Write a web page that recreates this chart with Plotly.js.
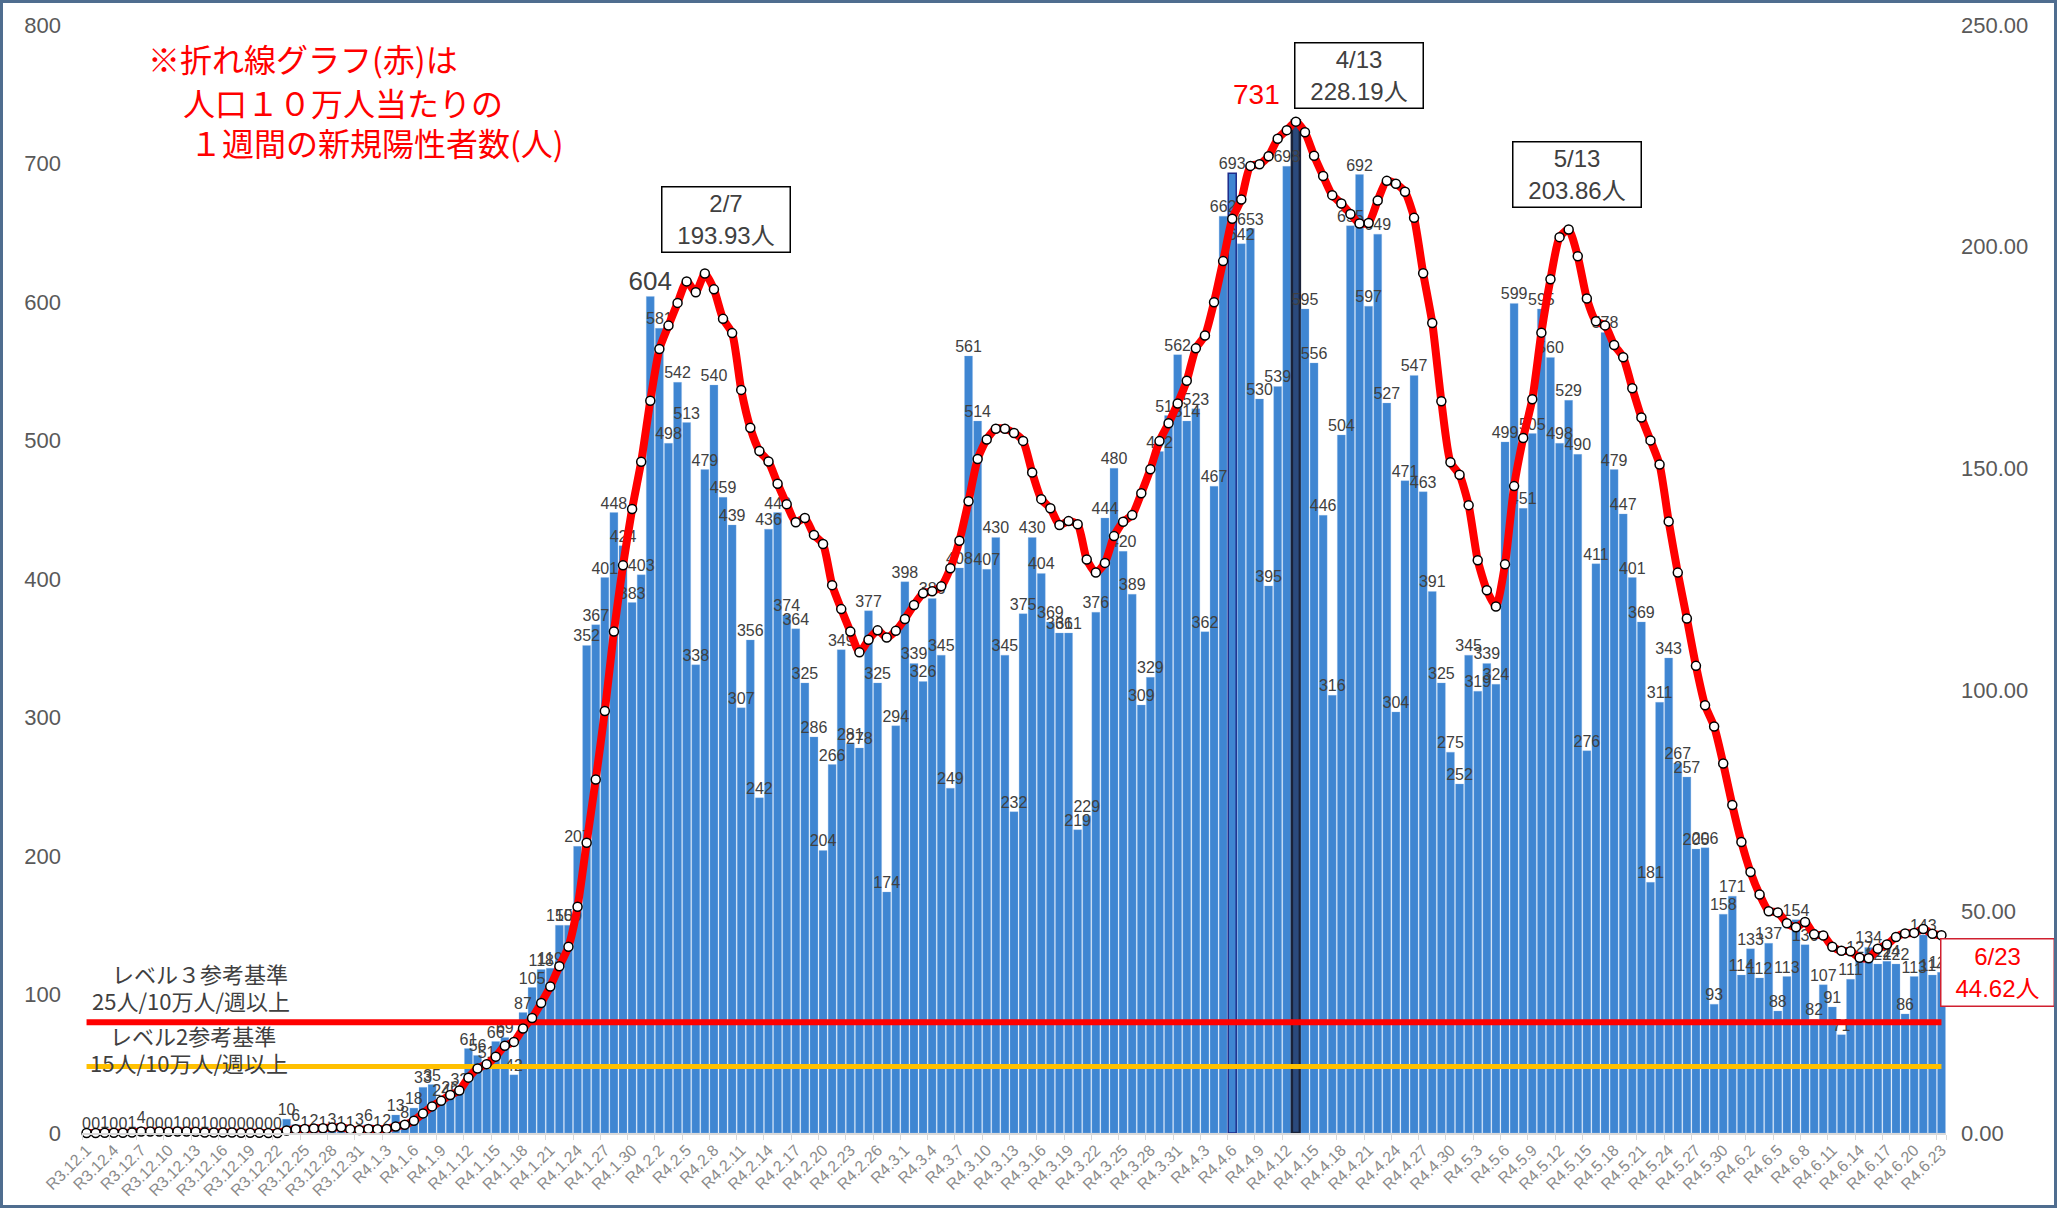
<!DOCTYPE html>
<html><head><meta charset="utf-8">
<script src="https://cdn.plot.ly/plotly-3.0.1.min.js"></script>
<style>
html,body{margin:0;padding:0;background:#fff;}
#chart{width:2057px;height:1208px;position:absolute;left:0;top:0;}
#frame{position:absolute;left:0;top:0;width:2057px;height:1208px;box-sizing:border-box;border:3px solid #4f6d8f;pointer-events:none;}
</style></head><body>
<div id="chart"></div><div id="frame"></div>
<script>
// ---- data ----
const firstDay = {year: 2021, month: 12, day: 1};
const dayCount = 205;

// daily new positive cases (bars, left axis)
const cases = [
  0,0,1,0,0,1,4,0,0,0,
  1,0,0,1,0,0,0,0,0,0,
  0,0,10,6,1,2,1,3,1,1,
  3,6,1,2,13,8,18,33,35,24,
  26,32,61,56,51,66,69,42,87,105,
  118,119,150,150,207,352,367,401,448,424,
  383,403,604,581,498,542,513,338,479,540,
  459,439,307,356,242,436,448,374,364,325,
  286,204,266,349,281,278,377,325,174,294,
  398,339,326,386,345,249,408,561,514,407,
  430,345,232,375,430,404,369,361,361,219,
  229,376,444,480,420,389,309,329,492,518,
  562,514,523,362,467,662,693,642,653,530,
  395,539,698,731,595,556,446,316,504,655,
  692,597,649,527,304,471,547,463,391,325,
  275,252,345,319,339,324,499,599,451,505,
  595,560,498,529,490,276,411,578,479,447,
  401,369,181,311,343,267,257,205,206,93,
  158,171,114,133,112,137,88,113,154,136,
  82,107,91,71,111,127,134,122,124,122,
  86,113,143,114,116
];

// weekly new positives per 100,000 people (red line, right axis)
const per100k = [
  0,0,0.05,0.05,0.05,0.11,0.33,0.33,0.33,0.27,
  0.33,0.33,0.27,0.11,0.11,0.11,0.11,0.05,0.05,0.05,
  0,0,0.55,0.87,0.93,1.04,1.09,1.25,1.31,0.82,
  0.65,0.93,0.87,0.93,1.47,1.85,2.78,4.42,6.00,7.25,
  8.56,9.60,12.49,14.56,15.54,17.23,19.68,20.56,23.56,25.95,
  29.33,33.04,37.62,42.04,51.04,65.49,79.77,95.20,113.14,128.08,
  140.79,151.47,165.21,176.88,182.17,187.30,192.15,189.69,193.93,190.35,
  183.70,180.48,167.67,159.11,153.87,151.53,146.51,141.88,137.79,138.77,
  134.95,132.88,123.61,118.21,113.14,108.45,111.29,113.41,111.78,113.30,
  115.98,119.14,121.76,122.25,123.34,127.43,133.64,142.53,152.07,156.49,
  158.89,158.89,157.96,156.16,149.02,143.02,140.95,137.19,138.06,137.35,
  129.39,126.44,128.63,134.68,137.90,139.42,144.33,149.78,156.11,160.14,
  164.61,169.74,177.04,179.93,187.46,196.73,206.27,210.63,218.21,218.59,
  220.39,224.32,226.28,228.19,225.79,220.50,215.92,211.61,209.71,207.36,
  205.23,205.34,210.41,214.83,214.18,212.38,206.49,194.00,182.77,165.10,
  151.36,148.53,141.66,129.23,122.46,118.81,128.30,145.96,156.82,165.54,
  180.59,192.64,202.13,203.86,197.82,188.28,183.15,182.22,177.81,175.03,
  168.05,161.45,156.27,150.82,138.00,126.44,116.08,105.40,96.51,91.71,
  83.37,73.99,65.65,58.89,53.82,50.05,49.78,47.33,46.40,47.60,
  44.82,44.55,42.04,41.11,41.00,39.53,39.42,41.60,42.53,44.22,
  45.04,45.15,46.02,44.93,44.62
];

const level3 = 25;   // レベル３参考基準
const level2 = 15;   // レベル２参考基準
const tickEvery = 3;
const peakIndex = 133;      // 4/13
const markedIndex = 126;
const bigLabelIndex = 62;

// ---- categories (Reiwa dates) ----
const cats = [];
for (let k = 0; k < dayCount; k++) {
  const d = new Date(firstDay.year, firstDay.month - 1, firstDay.day + k);
  const era = 'R' + (d.getFullYear() - 2018);
  cats.push(era + '.' + (d.getMonth() + 1) + '.' + d.getDate());
}
const tickLabels = cats.filter((c, k) => k % tickEvery === 0);

const barColors = cases.map((v, k) => k === peakIndex ? '#2b4a7c' : '#3f86d2');
const barLineColors = cases.map((v, k) => k === peakIndex ? '#1a2238' : (k === markedIndex ? '#1c2a8a' : 'rgba(140,185,235,0.6)'));
const barLineWidths = cases.map((v, k) => (k === peakIndex ? 2.5 : (k === markedIndex ? 1.5 : 0.5)));
const barText = cases.map((v, k) => k === peakIndex ? '' : String(v));
const barTextSize = cases.map((v, k) => k === bigLabelIndex ? 26 : 16);

const NUMF = 'Liberation Sans, Noto Sans CJK JP, sans-serif';
const JPF = 'Noto Sans CJK JP, sans-serif';

const traces = [
  {
    type: 'bar', x: cats, y: cases, yaxis: 'y',
    marker: {color: barColors, line: {color: barLineColors, width: barLineWidths}},
    hoverinfo: 'x+y'
  },
  {
    // data labels above every bar, drawn over all bars
    type: 'scatter', mode: 'text', x: cats, y: cases, yaxis: 'y',
    text: barText, textposition: 'top center', cliponaxis: false,
    textfont: {family: NUMF, size: barTextSize, color: '#404040'},
    hoverinfo: 'skip'
  },
  {
    type: 'scatter', mode: 'lines', x: [cats[0], cats[dayCount - 1]], y: [level2, level2], yaxis: 'y2',
    line: {color: '#FFC000', width: 5}, hoverinfo: 'skip'
  },
  {
    type: 'scatter', mode: 'lines', x: [cats[0], cats[dayCount - 1]], y: [level3, level3], yaxis: 'y2',
    line: {color: '#FF0000', width: 6}, hoverinfo: 'skip'
  },
  {
    type: 'scatter', mode: 'lines+markers', x: cats, y: per100k, yaxis: 'y2',
    line: {color: '#FF0000', width: 8, shape: 'spline', smoothing: 0.6},
    marker: {size: 9, color: '#ffffff', line: {color: '#000000', width: 1.5}},
    cliponaxis: false
  }
];

const W = 1864, H = 1108, L = 82, T = 25;
const px = x => (x - L) / W;
const py = y => (T + H - y) / H;

function box(text, cx, cy, w, h, color, border) {
  return {xref: 'paper', yref: 'paper', x: px(cx), y: py(cy), xanchor: 'center', yanchor: 'middle',
    text: text, showarrow: false, align: 'center', width: w, height: h,
    font: {family: NUMF, size: 24, color: color}, bgcolor: '#ffffff',
    bordercolor: border, borderwidth: 1.5, borderpad: 2};
}
function label(text, x, cy, size, color, anchor) {
  return {xref: 'paper', yref: 'paper', x: px(x), y: py(cy), xanchor: anchor || 'left', yanchor: 'middle',
    text: text, showarrow: false, font: {family: JPF, size: size, color: color}};
}

const annotations = [
  label('※折れ線グラフ(赤)は', 146, 58, 32, '#ff0000'),
  label('人口１０万人当たりの', 181, 102, 32, '#ff0000'),
  label('１週間の新規陽性者数(人)', 188, 142, 32, '#ff0000'),
  box('2/7<br>193.93人', 726, 220, 123, 60, '#404040', '#000000'),
  box('4/13<br>228.19人', 1359, 76, 123, 60, '#404040', '#000000'),
  box('5/13<br>203.86人', 1577, 174, 123, 60, '#404040', '#000000'),
  box('6/23<br>44.62人', 1997, 973, 108, 62, '#ff0000', '#d02030'),
  {xref: 'paper', yref: 'paper', x: px(1256), y: py(94), xanchor: 'center', yanchor: 'middle',
   text: String(cases[peakIndex]), showarrow: false, font: {family: NUMF, size: 28, color: '#ff0000'}},
  label('レベル３参考基準', 110, 973, 22, '#404040'),
  label('25人/10万人/週以上', 90, 1000, 22, '#404040'),
  label('レベル2参考基準', 108, 1035, 22, '#404040'),
  label('15人/10万人/週以上', 88, 1062, 22, '#404040')
];

const layout = {
  width: 2057, height: 1208,
  margin: {l: L, r: 2057 - L - W, t: T, b: 1208 - T - H},
  paper_bgcolor: '#ffffff', plot_bgcolor: '#ffffff',
  showlegend: false, bargap: 0.12,
  font: {family: NUMF, color: '#404040'},
  xaxis: {
    type: 'category', range: [-0.5, dayCount - 0.5],
    tickmode: 'array', tickvals: tickLabels, ticktext: tickLabels, tickangle: -45,
    tickfont: {family: NUMF, size: 16, color: '#8a8a8a'},
    showline: true, linecolor: '#d9d9d9', linewidth: 1.5,
    ticks: 'outside', ticklen: 5, tickcolor: '#d9d9d9', tickson: 'boundaries',
    showgrid: false, zeroline: false
  },
  yaxis: {
    range: [0, 800], dtick: 100, tickfont: {family: NUMF, size: 22, color: '#595959'},
    showgrid: false, zeroline: false, showline: false, ticks: '', ticklabelstandoff: 20
  },
  yaxis2: {
    range: [0, 250], dtick: 50, tickformat: '.2f', overlaying: 'y', side: 'right',
    tickfont: {family: NUMF, size: 22, color: '#595959'},
    showgrid: false, zeroline: false, showline: false, ticks: '', ticklabelstandoff: 14
  },
  annotations: annotations
};

Plotly.newPlot('chart', traces, layout, {displayModeBar: false, staticPlot: true});
</script>
</body></html>
